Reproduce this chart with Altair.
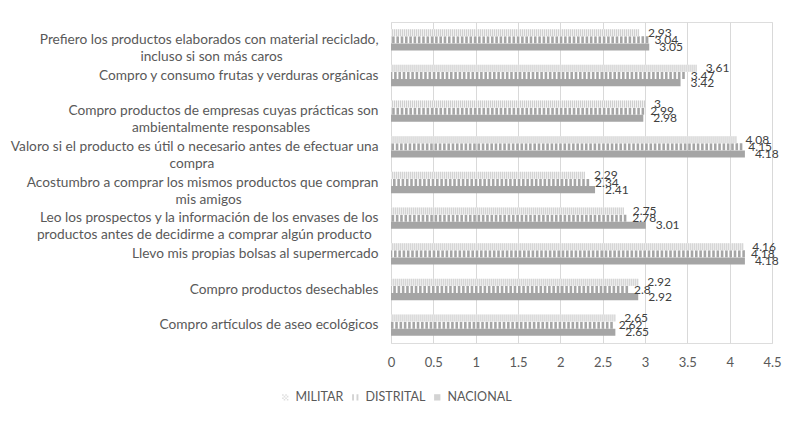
import altair as alt
import pandas as pd

categories = [
    "Prefiero los productos elaborados con material reciclado,|incluso si son más caros",
    "Compro y consumo frutas y verduras orgánicas",
    "Compro productos de empresas cuyas prácticas son|ambientalmente responsables",
    "Valoro si el producto es útil o necesario antes de efectuar una|compra",
    "Acostumbro a comprar los mismos productos que compran|mis amigos",
    "Leo los prospectos y la información de los envases de los|productos antes de decidirme a comprar algún producto",
    "Llevo mis propias bolsas al supermercado",
    "Compro productos desechables",
    "Compro artículos de aseo ecológicos",
]
series = ["MILITAR", "DISTRITAL", "NACIONAL"]
militar = [2.93, 3.61, 3.00, 4.08, 2.29, 2.75, 4.16, 2.92, 2.65]
distrital = [3.04, 3.47, 2.99, 4.15, 2.34, 2.78, 4.18, 2.80, 2.62]
nacional = [3.05, 3.42, 2.98, 4.18, 2.41, 3.01, 4.18, 2.92, 2.65]
x_ticks = [0, 0.5, 1, 1.5, 2, 2.5, 3, 3.5, 4, 4.5]

FONT = "Lato"
LABEL_SIZE = 13.7
GRAY = "#595959"


def approx_width(s):
    # rough relative glyph widths, only used to centre wrapped axis labels
    w = 0.0
    for ch in s:
        if ch in "iljtfríí.,: ":
            w += 0.55
        elif ch in "mw":
            w += 1.5
        elif ch.isupper():
            w += 1.2
        else:
            w += 1.0
    return w


REF_LINE = "Valoro si el producto es útil o necesario antes de efectuar una"
UNIT_PX = 368.0 / approx_width(REF_LINE)
EN_PX = 0.5 * LABEL_SIZE


def center_lines(label):
    # pad the second line with en spaces (closed by a word joiner so they are kept)
    # so that, right-aligned, it sits centred under the first line
    parts = label.split("|")
    if len(parts) == 1:
        return label
    l1, l2 = parts
    diff_px = (approx_width(l1) - approx_width(l2)) * UNIT_PX / 2
    k = max(0, round(diff_px / EN_PX))
    return l1 + "|" + l2 + "\u2002" * k + "\u2060"


cats = [center_lines(c) for c in categories]
rows = []
for vals, s in zip([militar, distrital, nacional], series):
    for c, v in zip(cats, vals):
        rows.append({"cat": c, "series": s, "value": v})
df = pd.DataFrame(rows)

y_enc = alt.Y(
    "cat:N",
    sort=cats,
    scale=alt.Scale(paddingInner=0.4, paddingOuter=0.2),
    axis=alt.Axis(
        title=None, ticks=False, domain=False, labelFontSize=LABEL_SIZE, labelFont=FONT,
        labelColor=GRAY, labelPadding=13, labelLimit=0, labelLineHeight=17,
        labelExpr="split(datum.label, '|')",
    ),
)
yo_enc = alt.YOffset("series:N", sort=series, scale=alt.Scale(paddingInner=0, paddingOuter=0))
x_enc = alt.X(
    "value:Q",
    scale=alt.Scale(domain=[0, 4.5], nice=False, zero=True),
    axis=alt.Axis(
        title=None, values=x_ticks, format="~g", grid=True, gridColor="#d9d9d9", domain=False,
        ticks=False, labelFontSize=13, labelFont=FONT, labelColor=GRAY, labelPadding=13,
        labelFlush=False,
    ),
)

base = alt.Chart(df).encode(y=y_enc, yOffset=yo_enc)

nac = base.transform_filter(alt.datum.series == "NACIONAL").mark_bar(
    color="#a5a5a5"
).encode(x=x_enc)

dis = base.transform_filter(alt.datum.series == "DISTRITAL").mark_rule(
    color="#a5a5a5", strokeWidth=7, strokeDash=[2.6, 1.7], strokeCap="butt"
).encode(x=x_enc, x2=alt.datum(0))

mil_bg = base.transform_filter(alt.datum.series == "MILITAR").mark_bar(
    color="#f2f2f2"
).encode(x=x_enc)
mil = base.transform_filter(alt.datum.series == "MILITAR").mark_rule(
    color="#cfcfcf", strokeWidth=7, strokeDash=[1, 1], strokeCap="butt"
).encode(x=x_enc, x2=alt.datum(0))

dots = ("M-1,-1h0.5v0.5h-0.5z M0,-1h0.5v0.5h-0.5z M-0.5,-0.5h0.5v0.5h-0.5z "
        "M0.5,-0.5h0.5v0.5h-0.5z M-1,0h0.5v0.5h-0.5z M0,0h0.5v0.5h-0.5z "
        "M-0.5,0.5h0.5v0.5h-0.5z M0.5,0.5h0.5v0.5h-0.5z")
stripes = "M-1,-1h0.6v2h-0.6z M0.4,-1h0.6v2h-0.6z"
square = "M-1,-1h2v2h-2z"

# legend-only layer: no points are drawn, the legend comes from the explicit scale domains
legend_layer = base.transform_filter("false").mark_point(filled=True).encode(
    x=x_enc,
    color=alt.Color(
        "series:N", sort=series,
        scale=alt.Scale(domain=series, range=["#bdbdbd", "#a5a5a5", "#a5a5a5"]),
        legend=alt.Legend(
            title=None, orient="none", legendX=-112, legendY=369, direction="horizontal",
            symbolOpacity=1, symbolStrokeWidth=0, symbolSize=40, labelFontSize=12.5,
            labelFont=FONT, labelColor=GRAY, columnPadding=5, labelOffset=4,
        ),
    ),
    shape=alt.Shape("series:N", sort=series,
                    scale=alt.Scale(domain=series, range=[dots, stripes, square])),
)

texts = []
for s, dx in zip(series, [9, 6, 10]):
    texts.append(
        base.transform_filter(alt.datum.series == s).mark_text(
            align="left", baseline="middle", dx=dx, fontSize=12, font=FONT, color="#404040"
        ).encode(x=x_enc, text=alt.Text("value:Q", format="~g"))
    )

chart = alt.layer(nac, dis, mil_bg, mil, legend_layer, *texts).properties(
    width=381, height=321,
    autosize=alt.AutoSizeParams(type="none"),
    padding={"left": 383, "top": 14, "right": 23, "bottom": 73},
).configure_view(stroke=None).configure(background="white")

chart.save("out.html", embed_options={"renderer": "svg", "actions": False})
